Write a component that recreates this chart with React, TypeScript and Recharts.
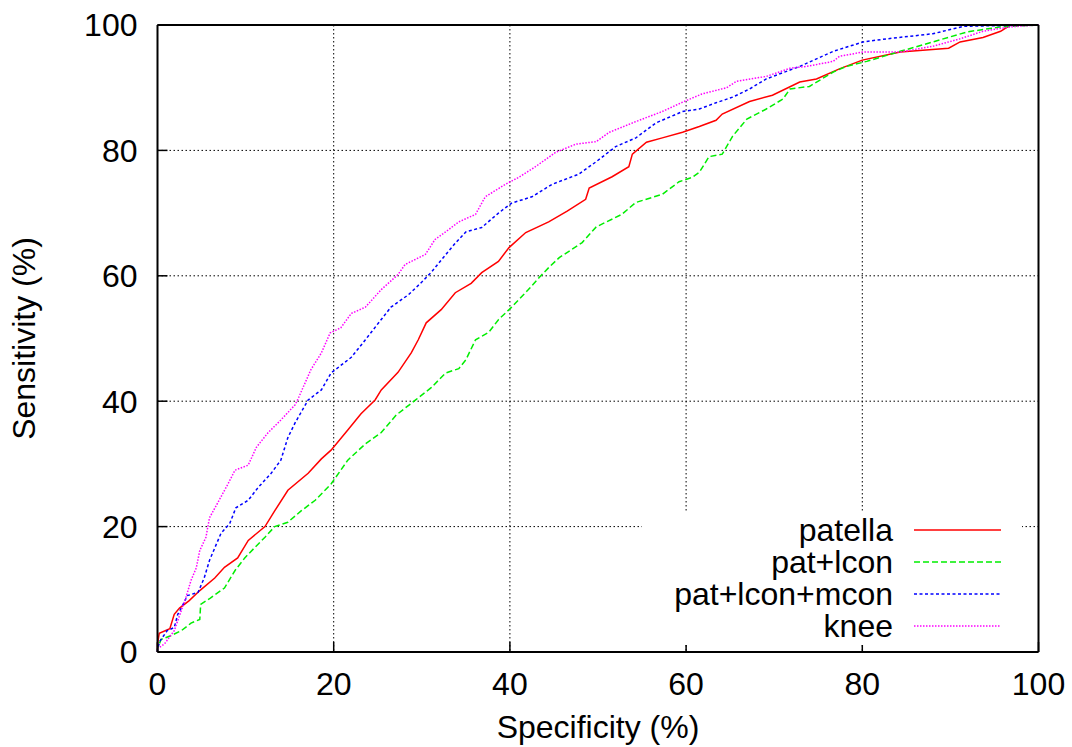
import { LineChart, Line, XAxis, YAxis, CartesianGrid, Legend, Label } from 'recharts'

const FONT = '"Liberation Sans", Arial, Helvetica, sans-serif'

// Axis ticks
const specTicks = [0, 20, 40, 60, 80, 100]
const sensTicks = [0, 20, 40, 60, 80, 100]

// patella
const patellaSpec = [0, 0, 0.2, 1.4, 1.9, 2.5, 3.6, 4.8, 6.5, 7.6, 9.1, 10.3, 12.2, 13.3, 14.8, 17.1, 18.6, 19.7, 21.6, 23.1, 24.7, 25.4, 27.3, 28.8, 29.6, 30.5, 32.2, 33.8, 35.6, 36.8, 38.7, 39.9, 41.8, 44.4, 46.5, 48.6, 49, 51.6, 53.5, 53.9, 55.5, 57.3, 59.6, 61.5, 63.4, 64.1, 67.2, 69.8, 72.9, 74.8, 77.4, 80, 84.3, 89.8, 91.1, 93.7, 95.7, 96.8, 100]
const patellaSens = [0, 1.3, 3, 3.7, 6, 7, 8.2, 9.8, 11.8, 13.5, 15, 17.8, 20, 22.5, 25.8, 28.5, 30.8, 32.2, 35.4, 38, 40.2, 41.8, 44.6, 47.7, 49.8, 52.5, 54.6, 57.3, 58.8, 60.5, 62.3, 64.5, 66.9, 68.6, 70.3, 72.2, 74, 75.8, 77.4, 79.4, 81.3, 82, 82.9, 83.8, 84.8, 85.8, 87.8, 88.8, 90.9, 91.4, 93, 94.4, 95.7, 96.3, 97.3, 98, 99, 100, 100]

// pat+lcon
const patLconSpec = [0, 0, 0.4, 1.5, 2.7, 3.8, 4.8, 4.9, 6, 7.6, 8.8, 9.9, 11, 12.2, 13.3, 14.8, 16.3, 17.9, 19.7, 21.6, 23.6, 25.4, 27.1, 29.3, 31.1, 32.7, 34.2, 35, 36.1, 37.6, 38.7, 40.2, 42.1, 43.3, 44.4, 45.6, 48.2, 49.8, 52.7, 54.3, 57.3, 59.2, 60.7, 61.5, 62.6, 64.1, 65.3, 66.9, 69.1, 71, 71.8, 74, 76.7, 78.2, 80.5, 84.3, 88, 91.9, 95.7, 100]
const patLconSens = [0, 0.5, 2, 2.6, 3.4, 4.6, 5.2, 7.6, 8.6, 10.2, 13, 15, 16.6, 18.3, 20, 20.7, 22.5, 24.2, 26.8, 30.6, 33.2, 35, 37.8, 40.2, 42.2, 44.5, 45.2, 46.6, 49.8, 51, 53, 55, 57.8, 59.7, 61.3, 62.9, 65.3, 67.8, 69.8, 71.7, 73, 75, 75.7, 76.5, 79, 79.4, 82.3, 85, 86.6, 88.2, 89.8, 90.2, 92.5, 93.4, 94.2, 95.8, 97.3, 98.9, 99.7, 100]

// pat+lcon+mcon
const patLconMconSpec = [0, 0, 0.3, 1.1, 1.9, 2.3, 2.7, 3.4, 4.6, 5.3, 5.9, 6.5, 7.2, 8.2, 8.9, 10.3, 11.4, 12.9, 14, 14.8, 15.6, 17.1, 18.6, 19.7, 22, 23.6, 25.1, 26.5, 28.5, 30, 31.1, 32.2, 33.8, 35, 36.8, 38.7, 40.2, 42.5, 44.8, 47.8, 49.8, 52, 54.3, 56.6, 59.6, 61.5, 63.4, 65.3, 67.2, 69.1, 72.9, 76.7, 80.1, 82.8, 88, 91.5, 100]
const patLconMconSens = [0, 0.5, 1.8, 3.4, 3.9, 6, 7, 9, 9.5, 11.8, 14.6, 16.6, 18.9, 20.5, 23, 24.2, 26.2, 28.5, 30.6, 34.2, 36.5, 40.2, 41.8, 44.5, 47, 49.8, 52.5, 55, 57, 59, 60.6, 62.5, 65.2, 67, 67.7, 70, 71.6, 72.6, 74.6, 76.2, 78.2, 80.6, 82, 84.4, 86.2, 86.6, 87.6, 88.5, 89.8, 91.4, 93.4, 95.8, 97.3, 97.8, 98.6, 99.8, 100]

// knee
const kneeSpec = [0, 0, 0.8, 1.9, 2.7, 3.2, 3.8, 4.4, 4.8, 5.5, 5.9, 6.8, 8, 8.8, 10.3, 11.2, 12.5, 14, 15.6, 15.9, 17.4, 18.6, 19.6, 20.8, 22, 23.6, 25.4, 27.3, 28.1, 30.4, 31.5, 32.7, 34.2, 36.1, 37.2, 39.5, 41, 42.9, 45.2, 47.5, 49.8, 51.3, 54.3, 57.3, 59.6, 61.8, 64.6, 65.7, 69.1, 71.8, 73.7, 76.7, 77.4, 80.1, 84.3, 88, 91.1, 93.7, 96.8, 100]
const kneeSens = [0, 0.5, 1.3, 3.4, 6.6, 8.6, 11.4, 13.4, 16.2, 18.3, 21.4, 23.7, 26.8, 29, 29.8, 32.6, 34.9, 37, 39.4, 40.2, 45, 47.7, 50.9, 51.7, 54, 55, 57.8, 60.2, 61.8, 63.4, 65.8, 67, 68.6, 69.8, 72.6, 74.6, 75.7, 77.4, 79.7, 81, 81.4, 82.9, 84.6, 86.2, 87.7, 89, 90, 91, 91.8, 93.1, 93.4, 94.2, 95, 95.7, 95.7, 96.6, 97.8, 99, 99.7, 100]

const toPoints = (xs: number[], ys: number[]) => xs.map((x, i) => ({ spec: x, sens: ys[i] }))

const SERIES = [
    { name: 'patella', color: '#ff0000', dash: undefined, data: toPoints(patellaSpec, patellaSens) },
    { name: 'pat+lcon', color: '#00ee00', dash: '6 3', data: toPoints(patLconSpec, patLconSens) },
    { name: 'pat+lcon+mcon', color: '#0000ff', dash: '3 2.5', data: toPoints(patLconMconSpec, patLconMconSens) },
    { name: 'knee', color: '#ff00ff', dash: '1.5 1.5', data: toPoints(kneeSpec, kneeSens) },
]

const tickStyle = { fontSize: 32, fill: '#000', fontFamily: FONT }

// legend box sits inside the plot, gnuplot style, with a white fill over the grid
const KeyBox = () => (
    <svg width={380} height={132} style={{ display: 'block', background: '#fff' }}>
        {SERIES.map((s, i) => {
            const cy = 17 + i * 32
            return (
                <g key={s.name}>
                    <text x={251} y={cy + 10.5} textAnchor="end" fontSize={32} fontFamily={FONT} fill="#000">
                        {s.name}
                    </text>
                    <line x1={272} x2={359} y1={cy} y2={cy} stroke={s.color} strokeWidth={1.5} strokeDasharray={s.dash} />
                </g>
            )
        })}
    </svg>
)

const YTitle = ({ viewBox }: any) => {
    const x = viewBox.x + viewBox.width - 122.5
    const y = viewBox.y + viewBox.height / 2
    return (
        <text x={x} y={y} transform={`rotate(-90, ${x}, ${y})`} textAnchor="middle" fontSize={32} fontFamily={FONT} fill="#000">
            Sensitivity (%)
        </text>
    )
}

export default function App() {
    return (
        <div style={{ position: 'absolute', left: 0, top: 0, background: '#fff' }}>
            <LineChart width={1072} height={747} margin={{ top: 24, right: 32.5, bottom: 35, left: 57.5 }}>
                <CartesianGrid stroke="#000" strokeWidth={1} strokeDasharray="1.5 2.5" />
                <XAxis
                    dataKey="spec"
                    type="number"
                    domain={[0, 100]}
                    ticks={specTicks}
                    height={60}
                    tickSize={-10}
                    tickMargin={30}
                    tick={tickStyle}
                    axisLine={{ stroke: '#000', strokeWidth: 2 }}
                    tickLine={{ stroke: '#000', strokeWidth: 1.5 }}
                >
                    <Label value="Specificity (%)" position="bottom" offset={3} fontSize={32} fontFamily={FONT} fill="#000" />
                </XAxis>
                <XAxis
                    xAxisId="top"
                    orientation="top"
                    type="number"
                    domain={[0, 100]}
                    ticks={specTicks}
                    height={1}
                    tickSize={-10}
                    tickFormatter={() => ''}
                    axisLine={{ stroke: '#000', strokeWidth: 2 }}
                    tickLine={{ stroke: '#000', strokeWidth: 1.5 }}
                />
                <YAxis
                    type="number"
                    domain={[0, 100]}
                    ticks={sensTicks}
                    width={100}
                    tickSize={-10}
                    tickMargin={30}
                    tick={tickStyle}
                    axisLine={{ stroke: '#000', strokeWidth: 2 }}
                    tickLine={{ stroke: '#000', strokeWidth: 1.5 }}
                >
                    <Label content={<YTitle />} />
                </YAxis>
                <YAxis
                    yAxisId="right"
                    orientation="right"
                    type="number"
                    domain={[0, 100]}
                    ticks={sensTicks}
                    width={1}
                    tickSize={-10}
                    tickFormatter={() => ''}
                    axisLine={{ stroke: '#000', strokeWidth: 2 }}
                    tickLine={{ stroke: '#000', strokeWidth: 1.5 }}
                />
                {SERIES.map((s) => (
                    <Line
                        key={s.name}
                        data={s.data}
                        dataKey="sens"
                        name={s.name}
                        type="linear"
                        stroke={s.color}
                        strokeWidth={1.5}
                        strokeDasharray={s.dash}
                        dot={false}
                        activeDot={false}
                        isAnimationActive={false}
                    />
                ))}
                <Legend
                    layout="horizontal"
                    verticalAlign="middle"
                    align="center"
                    content={<KeyBox />}
                    wrapperStyle={{ position: 'absolute', left: 642, top: 513, width: 380, height: 132 }}
                />
            </LineChart>
        </div>
    )
}
